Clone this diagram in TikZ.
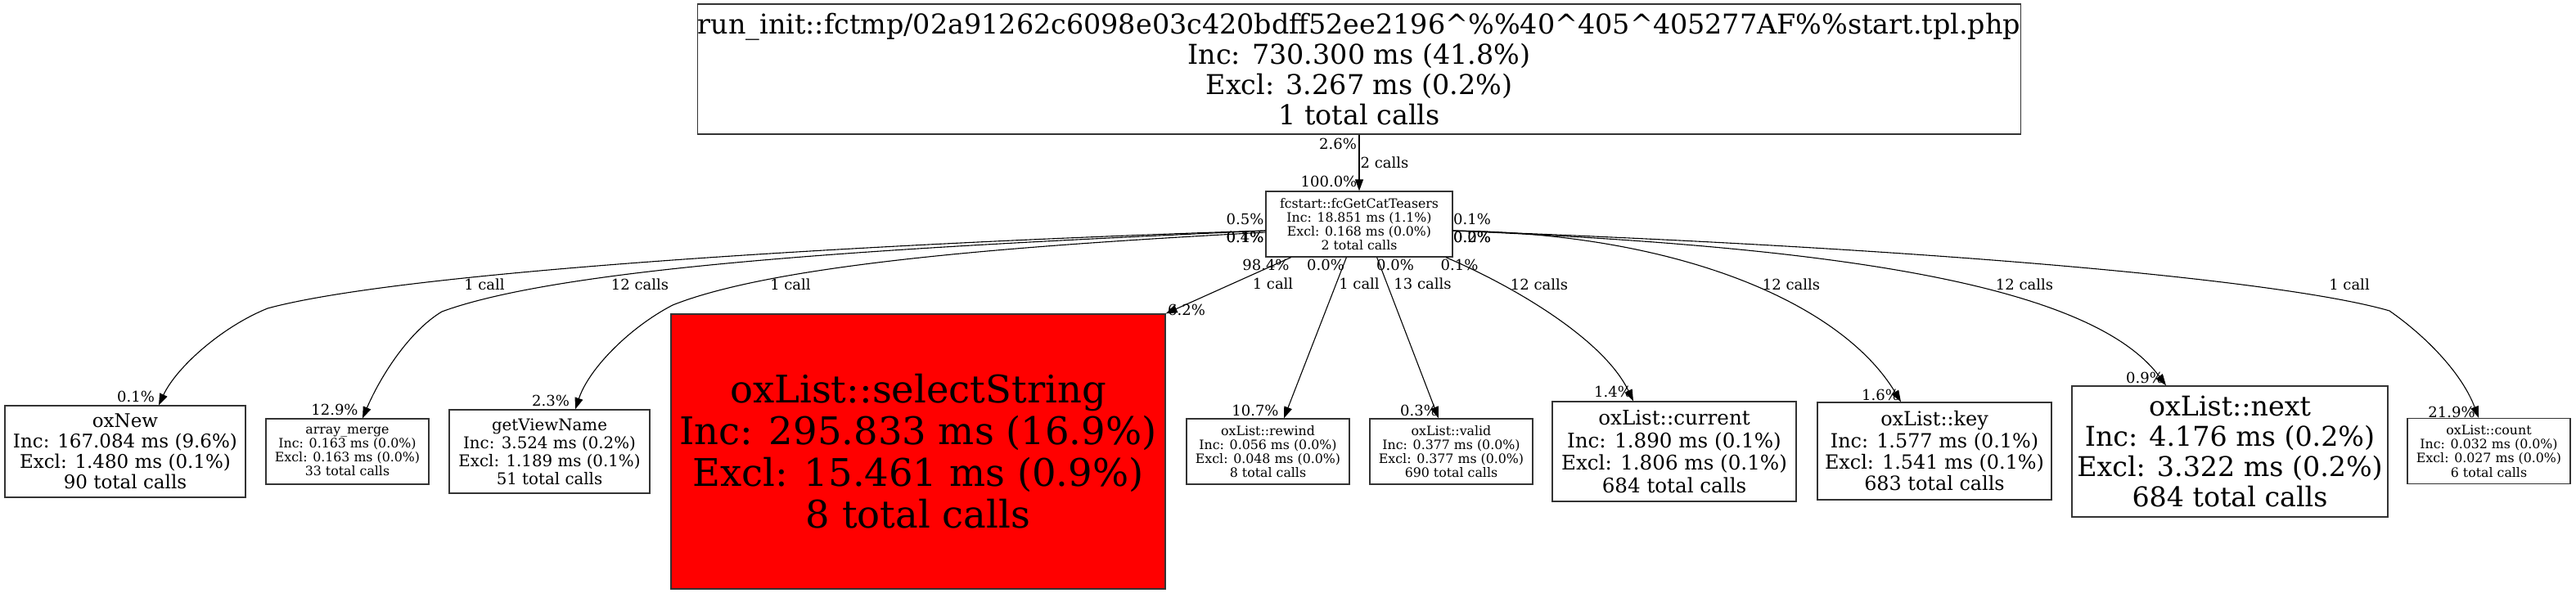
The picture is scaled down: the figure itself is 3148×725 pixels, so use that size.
\documentclass[tikz,border=0pt]{standalone}
\usepackage{fontspec}
\setmainfont{DejaVu Serif}
\usetikzlibrary{arrows.meta}
\colorlet{Hot}{red}
\tikzset{
  func/.style={draw=black!80, line width=1.3pt, inner sep=0pt, align=center},
  small/.style={font=\fontsize{15.8}{17.2}\selectfont, minimum width=199pt, minimum height=80pt},
  call/.style={-{Triangle[length=14pt,width=10pt]}, line width=1.1pt},
  lbl/.style={font=\fontsize{18}{20}\selectfont, inner sep=0pt}
}

\begin{document}
\begin{tikzpicture}[x=1pt,y=1pt]
        \useasboundingbox (0,0) rectangle (3148,-725);
        % caller and callees
        \node[func, minimum width=1616pt, minimum height=159pt, font=\fontsize{33.4}{37}\selectfont] (init) at (1661,-84.5) {run\_init::fctmp/02a91262c6098e03c420bdff52ee2196\textasciicircum\%\%40\textasciicircum405\textasciicircum405277AF\%\%start.tpl.php\\Inc: 730.300 ms (41.8\%)\\Excl: 3.267 ms (0.2\%)\\1 total calls};
        \node[func, small, minimum width=228pt, font=\fontsize{15.7}{17.2}\selectfont] (teasers) at (1661,-274) {fcstart::fcGetCatTeasers\\Inc: 18.851 ms (1.1\%)\\Excl: 0.168 ms (0.0\%)\\2 total calls};
        \node[func, minimum width=294pt, minimum height=112pt, font=\fontsize{23}{25}\selectfont] (oxnew) at (153,-552) {oxNew\\Inc: 167.084 ms (9.6\%)\\Excl: 1.480 ms (0.1\%)\\90 total calls};
        \node[func, small] (merge) at (424.5,-552) {array\_merge\\Inc: 0.163 ms (0.0\%)\\Excl: 0.163 ms (0.0\%)\\33 total calls};
        \node[func, minimum width=245pt, minimum height=102pt, font=\fontsize{19.8}{22}\selectfont] (viewname) at (671.5,-552) {getViewName\\Inc: 3.524 ms (0.2\%)\\Excl: 1.189 ms (0.1\%)\\51 total calls};
        \node[func, fill=Hot, minimum width=604pt, minimum height=336pt, font=\fontsize{46.5}{51}\selectfont] (select) at (1122,-552) {oxList::selectString\\Inc: 295.833 ms (16.9\%)\\Excl: 15.461 ms (0.9\%)\\8 total calls};
        \node[func, small] (rewind) at (1549.5,-552) {oxList::rewind\\Inc: 0.056 ms (0.0\%)\\Excl: 0.048 ms (0.0\%)\\8 total calls};
        \node[func, small] (valid) at (1773.5,-552) {oxList::valid\\Inc: 0.377 ms (0.0\%)\\Excl: 0.377 ms (0.0\%)\\690 total calls};
        \node[func, minimum width=298pt, minimum height=122pt, font=\fontsize{24.6}{27.5}\selectfont] (current) at (2046,-552) {oxList::current\\Inc: 1.890 ms (0.1\%)\\Excl: 1.806 ms (0.1\%)\\684 total calls};
        \node[func, minimum width=286pt, minimum height=119pt, font=\fontsize{23.9}{26.3}\selectfont] (key) at (2364,-551.5) {oxList::key\\Inc: 1.577 ms (0.1\%)\\Excl: 1.541 ms (0.1\%)\\683 total calls};
        \node[func, minimum width=386pt, minimum height=160pt, font=\fontsize{33.3}{36.7}\selectfont] (next) at (2725,-552) {oxList::next\\Inc: 4.176 ms (0.2\%)\\Excl: 3.322 ms (0.2\%)\\684 total calls};
        \node[func, small] (count) at (3041.5,-551.5) {oxList::count\\Inc: 0.032 ms (0.0\%)\\Excl: 0.027 ms (0.0\%)\\6 total calls};

        % calls
        \draw[call] (init) -- (teasers);
        \draw[call] (teasers.184) .. controls (1100,-296) and (500,-330) .. (327,-377) .. controls (270,-400) and (215,-450) .. ([xshift=41pt]oxnew.north);
        \draw[call] (teasers.184.5) .. controls (1150,-300) and (700,-322) .. (540,-381) .. controls (500,-405) and (465,-460) .. ([xshift=18.5pt]merge.north);
        \draw[call] (teasers.185) .. controls (1250,-300) and (950,-322) .. (822,-373) .. controls (770,-400) and (720,-450) .. ([xshift=31.5pt]viewname.north);
        \draw[call] (teasers.206) -- (select.north east);
        \draw[call] (teasers.249) -- ([xshift=19.5pt]rewind.north);
        \draw[call] (teasers.298) -- ([xshift=-15.5pt]valid.north);
        \draw[call] (teasers.339) .. controls (1850,-350) and (1960,-415) .. ([xshift=-50pt]current.north);
        \draw[call] (teasers.356) .. controls (2050,-285) and (2250,-370) .. ([xshift=-41pt]key.north);
        \draw[call] (teasers.356) .. controls (2200,-300) and (2550,-340) .. ([xshift=-78pt]next.north);
        \draw[call] (teasers.356) .. controls (2400,-305) and (2800,-345) .. (2920,-380) .. controls (2970,-415) and (3010,-460) .. ([xshift=-12.5pt]count.north);

        % tail, call and head labels
        \node[lbl] (tInit) at (1635,-176) {2.6\%};
        \node[lbl] (mInit) at (1692,-198.5) {2 calls};
        \node[lbl] (hInit) at (1624,-222) {100.0\%};
        \node[lbl] (tNew) at (1521.5,-267.5) {0.5\%};
        \node[lbl] (tMerge) at (1521.5,-289.5) {0.4\%};
        \node[lbl] (tView) at (1521.5,-289.5) {0.1\%};
        \node[lbl] (tKey) at (1799,-267.5) {0.1\%};
        \node[lbl] (tNext) at (1799,-289.5) {0.0\%};
        \node[lbl] (tCount) at (1799,-289.5) {0.2\%};
        \node[lbl] (tSelect) at (1547,-324) {98.4\%};
        \node[lbl] (tRewind) at (1620,-324) {0.0\%};
        \node[lbl] (tValid) at (1705,-324) {0.0\%};
        \node[lbl] (tCurrent) at (1783.5,-324) {0.1\%};
        \node[lbl] (mNew) at (592,-348) {1 call};
        \node[lbl] (mMerge) at (782,-348) {12 calls};
        \node[lbl] (mView) at (966,-348) {1 call};
        \node[lbl] (mSelect) at (1555.5,-347) {1 call};
        \node[lbl] (mRewind) at (1661,-347) {1 call};
        \node[lbl] (mValid) at (1738.5,-347) {13 calls};
        \node[lbl] (mCurrent) at (1881,-348) {12 calls};
        \node[lbl] (mKey) at (2189,-348) {12 calls};
        \node[lbl] (mNext) at (2474,-348) {12 calls};
        \node[lbl] (mCount) at (2871,-348) {1 call};
        \node[lbl] (hNew) at (166,-484.5) {0.1\%};
        \node[lbl] (hMerge) at (409,-501) {12.9\%};
        \node[lbl] (hView) at (673,-490) {2.3\%};
        \node[lbl] (hSelect) at (1450,-378.5) {6.2\%};
        \node[lbl] (hRewind) at (1534,-501.5) {10.7\%};
        \node[lbl] (hValid) at (1734,-501.5) {0.3\%};
        \node[lbl] (hCurrent) at (1971,-479) {1.4\%};
        \node[lbl] (hKey) at (2298,-483) {1.6\%};
        \node[lbl] (hNext) at (2621,-461.5) {0.9\%};
        \node[lbl] (hCount) at (2996,-503.5) {21.9\%};
\end{tikzpicture}
\end{document}
